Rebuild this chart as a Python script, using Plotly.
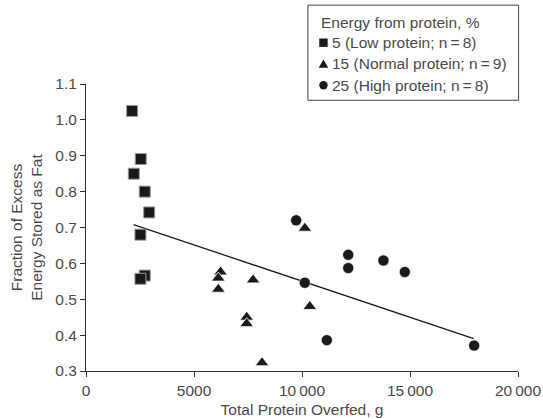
import plotly.graph_objects as go

# Data
low_x = [2135, 2535, 2213, 2720, 2925, 2520, 2720, 2520]
low_y = [1.025, 0.891, 0.850, 0.800, 0.742, 0.680, 0.566, 0.557]

norm_x = [6230, 6125, 6125, 7735, 7440, 7440, 8150, 10130, 10360]
norm_y = [0.576, 0.559, 0.528, 0.554, 0.450, 0.432, 0.323, 0.698, 0.480]

high_x = [9730, 10130, 12140, 12140, 13770, 14760, 11150, 17970]
high_y = [0.720, 0.546, 0.624, 0.587, 0.608, 0.576, 0.386, 0.371]

fit_x = [2200, 17950]
fit_y = [0.708, 0.390]

x_tickvals = [0, 5000, 10000, 15000, 20000]
x_ticktext = ["0", "5000", "10\u2009000", "15\u2009000", "20\u2009000"]
y_tickvals = [0.3, 0.4, 0.5, 0.6, 0.7, 0.8, 0.9, 1.0, 1.1]
x_range = [0, 20000]
y_range = [0.3, 1.1]

legend_title = "Energy from protein, %"
series_names = ["5 (Low protein; n\u2009=\u20098)",
                "15 (Normal protein; n\u2009=\u20099)",
                "25 (High protein; n\u2009=\u20098)"]
symbols = ["square", "triangle-up", "circle"]

FONT = "Liberation Sans, Arial, sans-serif"
TXT = "#4a4a4a"
MK = "#1a1a1a"
FS = 15.5

W, H = 543, 419
ML, MR, MT, MB = 86, 25.3, 83.7, 47.7
PW, PH = W - ML - MR, H - MT - MB

fig = go.Figure()
fig.add_trace(go.Scatter(x=fit_x, y=fit_y, mode="lines",
                         line=dict(color="#1a1a1a", width=1.3),
                         showlegend=False, hoverinfo="skip"))
fig.add_trace(go.Scatter(x=low_x, y=low_y, mode="markers", name=series_names[0],
                         showlegend=False,
                         marker=dict(symbol="square", size=11, color=MK,
                                     line=dict(color="#9a9a9a", width=1))))
fig.add_trace(go.Scatter(x=norm_x, y=norm_y, mode="markers", name=series_names[1],
                         showlegend=False,
                         marker=dict(symbol="triangle-up", size=12, color=MK,
                                     line=dict(color="#ffffff", width=0.8))))
fig.add_trace(go.Scatter(x=high_x, y=high_y, mode="markers", name=series_names[2],
                         showlegend=False,
                         marker=dict(symbol="circle", size=11, color=MK,
                                     line=dict(color="#ffffff", width=0.5))))

# Custom legend (box, title, symbols, labels), placed in paper-fraction units
leg_x0, leg_x1, leg_y0, leg_y1 = 0.5136, 1.0014, 0.9433, 1.2747
title_y = 1.2155
item_y = [1.1439, 1.0709, 0.9955]
sym_x = 0.5497
txt_x = 0.5640

fig.add_shape(type="rect", xref="paper", yref="paper",
              x0=leg_x0, x1=leg_x1, y0=leg_y0, y1=leg_y1,
              line=dict(color="#444444", width=1), fillcolor="rgba(0,0,0,0)",
              layer="above")
fig.add_annotation(xref="paper", yref="paper", x=0.5385, y=title_y,
                   xanchor="left", yanchor="middle", showarrow=False,
                   text=legend_title, font=dict(size=FS, color=TXT))

for name, sym, yy in zip(series_names, symbols, item_y):
    hx = 4.2 / PW
    hy = 4.2 / PH
    if sym == "square":
        fig.add_shape(type="rect", xref="paper", yref="paper",
                      x0=sym_x - hx, x1=sym_x + hx, y0=yy - hy, y1=yy + hy,
                      line=dict(width=0), fillcolor=MK)
    elif sym == "circle":
        fig.add_shape(type="circle", xref="paper", yref="paper",
                      x0=sym_x - hx, x1=sym_x + hx, y0=yy - hy, y1=yy + hy,
                      line=dict(width=0), fillcolor=MK)
    else:
        tx = 4.8 / PW
        ty = 4.2 / PH
        path = (f"M {sym_x - tx},{yy - ty} L {sym_x + tx},{yy - ty} "
                f"L {sym_x},{yy + ty} Z")
        fig.add_shape(type="path", xref="paper", yref="paper", path=path,
                      line=dict(width=0), fillcolor=MK)
    fig.add_annotation(xref="paper", yref="paper", x=txt_x, y=yy,
                       xanchor="left", yanchor="middle", showarrow=False,
                       text=name, font=dict(size=FS, color=TXT))

fig.update_layout(
    width=W, height=H,
    margin=dict(l=ML, r=MR, t=MT, b=MB, autoexpand=False),
    plot_bgcolor="white", paper_bgcolor="white",
    font=dict(family=FONT, size=FS, color=TXT),
    showlegend=False,
    xaxis=dict(range=x_range, tickvals=x_tickvals, ticktext=x_ticktext,
               showgrid=False, zeroline=False, showline=True, linecolor="#333333",
               linewidth=1, ticks="outside", ticklen=5, tickcolor="#333333",
               tickfont=dict(size=FS, color=TXT),
               title=dict(text="Total Protein Overfed, g", standoff=6,
                          font=dict(size=FS, color=TXT))),
    yaxis=dict(range=y_range, tickvals=y_tickvals, tickformat=".1f",
               showgrid=False, zeroline=False, showline=True, linecolor="#333333",
               linewidth=1, ticks="outside", ticklen=5, tickcolor="#333333",
               tickfont=dict(size=FS, color=TXT),
               title=dict(text="Fraction of Excess<br>Energy Stored as Fat", standoff=8,
                          font=dict(size=FS, color=TXT))),
)

fig.write_html("out.html", config={"displayModeBar": False},
               post_script="document.body.style.margin='0';")
